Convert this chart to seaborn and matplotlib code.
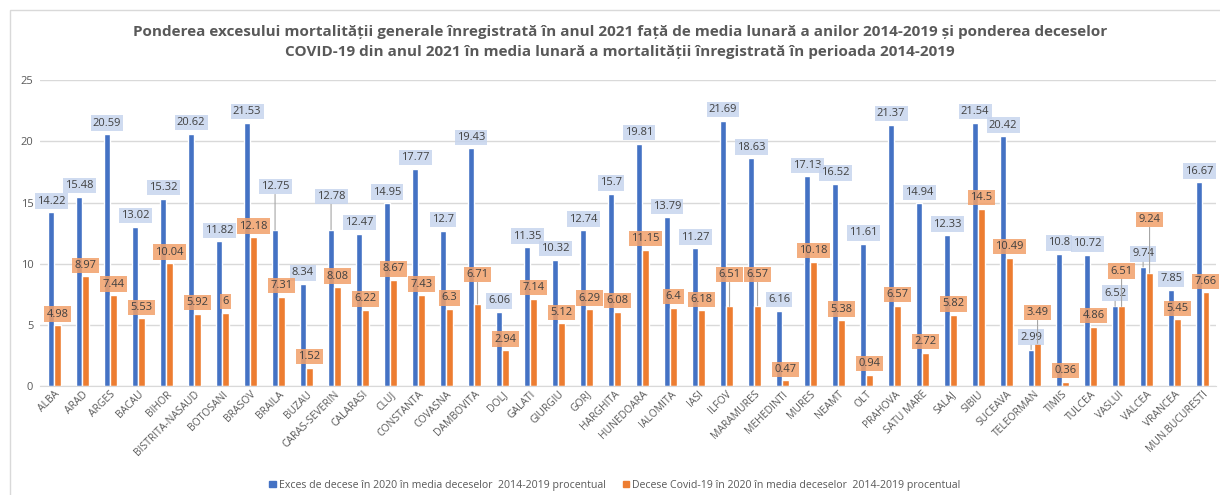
import pandas as pd
import matplotlib.pyplot as plt
import seaborn as sns
from matplotlib.patches import Rectangle, Patch

# judete si valori
judete = ["ALBA", "ARAD", "ARGES", "BACAU", "BIHOR", "BISTRITA-NASAUD", "BOTOSANI",
          "BRASOV", "BRAILA", "BUZAU", "CARAS-SEVERIN", "CALARASI", "CLUJ", "CONSTANTA",
          "COVASNA", "DAMBOVITA", "DOLJ", "GALATI", "GIURGIU", "GORJ", "HARGHITA",
          "HUNEDOARA", "IALOMITA", "IASI", "ILFOV", "MARAMURES", "MEHEDINTI", "MURES",
          "NEAMT", "OLT", "PRAHOVA", "SATU MARE", "SALAJ", "SIBIU", "SUCEAVA",
          "TELEORMAN", "TIMIS", "TULCEA", "VASLUI", "VALCEA", "VRANCEA", "MUN.BUCURESTI"]
exces = [14.22, 15.48, 20.59, 13.02, 15.32, 20.62, 11.82, 21.53, 12.75, 8.34, 12.78,
         12.47, 14.95, 17.77, 12.7, 19.43, 6.06, 11.35, 10.32, 12.74, 15.7, 19.81,
         13.79, 11.27, 21.69, 18.63, 6.16, 17.13, 16.52, 11.61, 21.37, 14.94, 12.33,
         21.54, 20.42, 2.99, 10.8, 10.72, 6.52, 9.74, 7.85, 16.67]
covid = [4.98, 8.97, 7.44, 5.53, 10.04, 5.92, 6, 12.18, 7.31, 1.52, 8.08, 6.22, 8.67,
         7.43, 6.3, 6.71, 2.94, 7.14, 5.12, 6.29, 6.08, 11.15, 6.4, 6.18, 6.51, 6.57,
         0.47, 10.18, 5.38, 0.94, 6.57, 2.72, 5.82, 14.5, 10.49, 3.49, 0.36, 4.86,
         6.51, 9.24, 5.45, 7.66]
serie_exces = "Exces de decese în 2020 în media deceselor  2014-2019 procentual"
serie_covid = "Decese Covid-19 în 2020 în media deceselor  2014-2019 procentual"
titlu = ("Ponderea excesului mortalității generale înregistrată în anul 2021 față de media "
         "lunară a anilor 2014-2019 și ponderea deceselor\nCOVID-19 din anul 2021 în media "
         "lunară a mortalității înregistrată în perioada 2014-2019")

# etichete mutate manual (cu linie de legatura), inaltimea etichetei pe axa y
etichete_mutate = {
    (0, "BRAILA"): 16.3, (0, "CARAS-SEVERIN"): 15.5,
    (1, "DAMBOVITA"): 9.1, (1, "ILFOV"): 9.1, (1, "MARAMURES"): 9.1,
    (0, "TELEORMAN"): 4.0, (1, "TELEORMAN"): 6.0,
    (0, "VASLUI"): 7.6, (1, "VASLUI"): 9.4,
    (0, "VALCEA"): 10.8, (1, "VALCEA"): 13.6,
}

albastru = "#4472C4"
portocaliu = "#ED7D31"
gri = "#595959"

df = pd.DataFrame({
    "judet": judete * 2,
    "valoare": exces + covid,
    "serie": [serie_exces] * len(judete) + [serie_covid] * len(judete),
})

sns.set_style("white")
plt.rcParams["font.family"] = ["Open Sans", "DejaVu Sans"]

fig = plt.figure(figsize=(12.2, 4.95), dpi=100)
ax = fig.add_axes([0.033, 0.22, 0.964, 0.618])

sns.barplot(data=df, x="judet", y="valoare", hue="serie",
            palette=[albastru, portocaliu], width=0.46, gap=0.05,
            saturation=1, ax=ax, legend=False)

# etichete cu valori
culori_eticheta = ["#c7d5ee", "#f2a06a"]
for k, (cont, fc) in enumerate(zip(ax.containers, culori_eticheta)):
    for jud, bara in zip(judete, cont.patches):
        x = bara.get_x() + bara.get_width() / 2
        h = bara.get_height()
        cutie = dict(boxstyle="square,pad=0.2", fc=fc, ec="none", alpha=0.85)
        if (k, jud) in etichete_mutate:
            ax.annotate(f"{h:g}", xy=(x, h), xytext=(x, etichete_mutate[(k, jud)]),
                        ha="center", va="center", fontsize=8, color="#404040", bbox=cutie,
                        arrowprops=dict(arrowstyle="-", color="#a6a6a6", lw=0.8,
                                        shrinkA=0, shrinkB=0))
        else:
            ax.annotate(f"{h:g}", xy=(x, h), xytext=(0, 4), textcoords="offset points",
                        ha="center", va="bottom", fontsize=8, color="#404040", bbox=cutie)

ax.set_ylim(0, 25)
ax.set_xlim(-0.5, len(judete) - 0.5)
ax.set_yticks([0, 5, 10, 15, 20, 25])
ax.yaxis.grid(True, color="#d9d9d9", lw=1)
ax.set_axisbelow(True)
for s in ["left", "right", "top"]:
    ax.spines[s].set_visible(False)
ax.spines["bottom"].set_color("#d9d9d9")
ax.set_xlabel("")
ax.set_ylabel("")
ax.tick_params(axis="y", labelsize=8, colors=gri, length=0, pad=5)
ax.tick_params(axis="x", labelsize=7.5, colors=gri, length=0, pad=2)
plt.setp(ax.get_xticklabels(), rotation=45, ha="right", rotation_mode="anchor")

fig.text(0.508, 0.915, titlu, ha="center", va="center", fontsize=11,
         fontweight="bold", color=gri, linespacing=1.6)

handles = [Patch(color=albastru, label=serie_exces), Patch(color=portocaliu, label=serie_covid)]
fig.legend(handles=handles, loc="center", bbox_to_anchor=(0.504, 0.02), ncol=2,
           frameon=False, fontsize=7.6, labelcolor=gri, handlelength=0.6,
           handleheight=0.6, handletextpad=0.3, columnspacing=1.6)

# chenarul graficului
fig.patches.append(Rectangle((0.008, -0.01), 1.0, 0.99, transform=fig.transFigure,
                             fill=False, ec="#d9d9d9", lw=1))

fig.savefig("out.png", dpi=100)
